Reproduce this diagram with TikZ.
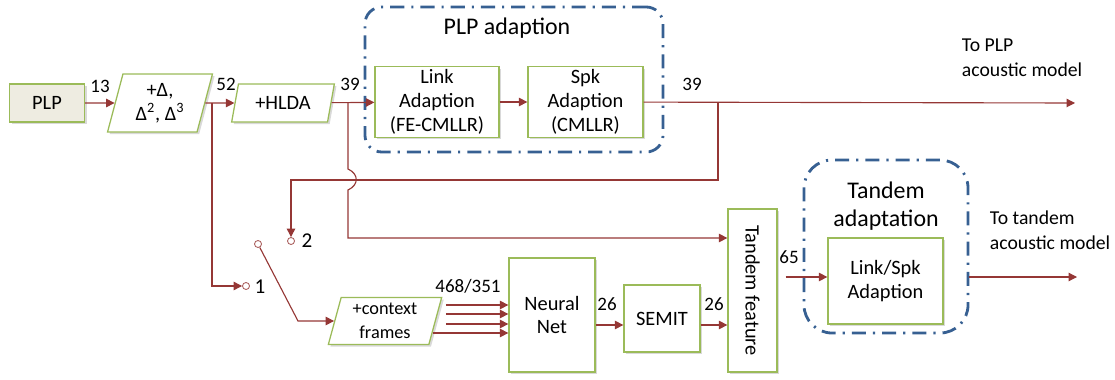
\documentclass[tikz,border=0pt]{standalone}
\usepackage{fontspec}
\setmainfont{Carlito}
\usetikzlibrary{shapes.geometric, arrows.meta, shadows}

\definecolor{arrred}{RGB}{149,55,53}
\definecolor{boxgreen}{RGB}{155,187,89}
\definecolor{plpfill}{RGB}{238,236,225}
\definecolor{grpblue}{RGB}{55,96,146}

\tikzset{
	box/.style={draw=boxgreen, line width=0.9pt, fill=white, align=center, inner sep=2pt,
		drop shadow={shadow xshift=1.5pt, shadow yshift=-1.5pt, opacity=0.3}},
	para/.style={box, trapezium, trapezium left angle=76, trapezium right angle=104, trapezium stretches=true},
	group/.style={draw=grpblue, line width=2pt, dash pattern=on 10pt off 5pt on 1.5pt off 5pt},
	arr/.style={draw=arrred, line width=0.8pt, -{Triangle[length=6pt,width=6pt]}},
	pin/.style={circle, draw=arrred!80, line width=0.6pt, fill=white, inner sep=0pt, minimum size=5pt},
	num/.style={inner sep=1pt, font=\fontsize{13.5}{16}\selectfont},
	title/.style={font=\fontsize{17}{20}\selectfont, align=center}
}

\begin{document}
\begin{tikzpicture}[x=0.025cm, y=-0.025cm, font=\fontsize{14.5}{17}\selectfont]
	\useasboundingbox (0,0) rectangle (1115,380);
	\node[group, rounded corners=12pt, minimum width=7.45cm, minimum height=3.625cm] (pgrp) at (514,79.5) {};
	\node[group, rounded corners=20pt, minimum width=4.1cm, minimum height=4.325cm] (tgrp) at (886,246.5) {};
	\node[title] (ptitle) at (507,28) {PLP adaption};
	\node[title] (ttitle) at (886,206) {Tandem\\adaptation};

	\node[box, fill=plpfill, minimum width=1.875cm, minimum height=0.95cm] (plp) at (47,103) {PLP};
	\node[para, minimum width=2.625cm, minimum height=1.45cm] (delta) at (160,103) {+Δ,\\Δ\textsuperscript{2}, Δ\textsuperscript{3}};
	\node[para, minimum width=2.575cm, minimum height=0.95cm] (hlda) at (283,103) {+HLDA};
	\node[box, minimum width=3.1cm, minimum height=1.65cm] (link) at (437,102) {Link\\Adaption\\(FE-CMLLR)};
	\node[box, minimum width=2.875cm, minimum height=1.65cm] (spk) at (585.5,102) {Spk\\Adaption\\(CMLLR)};
	\node[para, font=\fontsize{13}{17}\selectfont, minimum width=2.85cm, minimum height=1.175cm] (ctx) at (385,321) {+context\\frames};
	\node[box, minimum width=2.15cm, minimum height=2.85cm] (nn) at (552,315) {Neural\\Net};
	\node[box, minimum width=1.9cm, minimum height=1.675cm] (semit) at (662,318.5) {SEMIT};
	\node[box, minimum width=1.225cm, minimum height=4.075cm] (tf) at (752.5,290.5) {};
	\node[rotate=-90] (tftext) at (tf) {Tandem feature};
	\node[box, minimum width=2.875cm, minimum height=2.15cm] (ls) at (885.5,281) {Link/Spk\\Adaption};

	\node[pin] (sw0) at (258,244) {};
	\node[pin] (sw1) at (246,286) {};
	\node[pin] (sw2) at (291,241) {};
	\node[num, font=\fontsize{15}{17}\selectfont] (l1) at (260,287) {1};
	\node[num, font=\fontsize{15}{17}\selectfont] (l2) at (307,241) {2};

	\node[num] (n13) at (100,86) {13};
	\node[num] (n52) at (226,84) {52};
	\node[num] (n39a) at (350,84) {39};
	\node[num] (n39b) at (692,84) {39};
	\node[num] (n468) at (468,286) {468/351};
	\node[num] (n26a) at (607,304) {26};
	\node[num] (n26b) at (714,304) {26};
	\node[num] (n65) at (789,257) {65};

	\node[align=left, anchor=west, font=\fontsize{14}{17.5}\selectfont] (toplp) at (957,58) {To PLP\\acoustic model};
	\node[align=left, anchor=west, font=\fontsize{14}{17.5}\selectfont] (totand) at (985,230) {To tandem\\acoustic model};

	\coordinate (b1) at (212,103);
	\coordinate (b2) at (348,103);
	\coordinate (b3) at (718,103);
	\coordinate (plpout) at (1075,103);
	\coordinate (tandout) at (1077,277);
	\coordinate (r1) at (0,238);
	\coordinate (r2) at (0,325);
	\coordinate (r3) at (0,277);

	\foreach \from/\to in {plp/delta, delta/hlda, hlda/link, link/spk, spk/plpout}
		\draw[arr] (\from) -- (\to);
	\draw[arr] (b1) |- (sw1);
	\draw[arr] (b2) -- (348,169) .. controls (359,174) and (359,185) .. (348,190) -- (348,238) -- (tf.west |- r1);
	\draw[arr] (b3) -- (718,180) -| (sw2);
	\draw[arr] (sw0) -- (298,321) -- (ctx);
	\foreach \y/\s in {305/10, 314/10, 324/10, 333/-3}
		\draw[arr] (ctx.east |- 0,\y) ++(\s,0) -- (nn.west |- 0,\y);
	\draw[arr] (nn.east |- r2) -- (semit.west |- r2);
	\draw[arr] (semit.east |- r2) -- (tf.west |- r2);
	\draw[arr] (tf.east |- r3) ++(8,0) -- (ls.west |- r3);
	\draw[arr] (tgrp.east |- tandout) -- (tandout);
\end{tikzpicture}
\end{document}
